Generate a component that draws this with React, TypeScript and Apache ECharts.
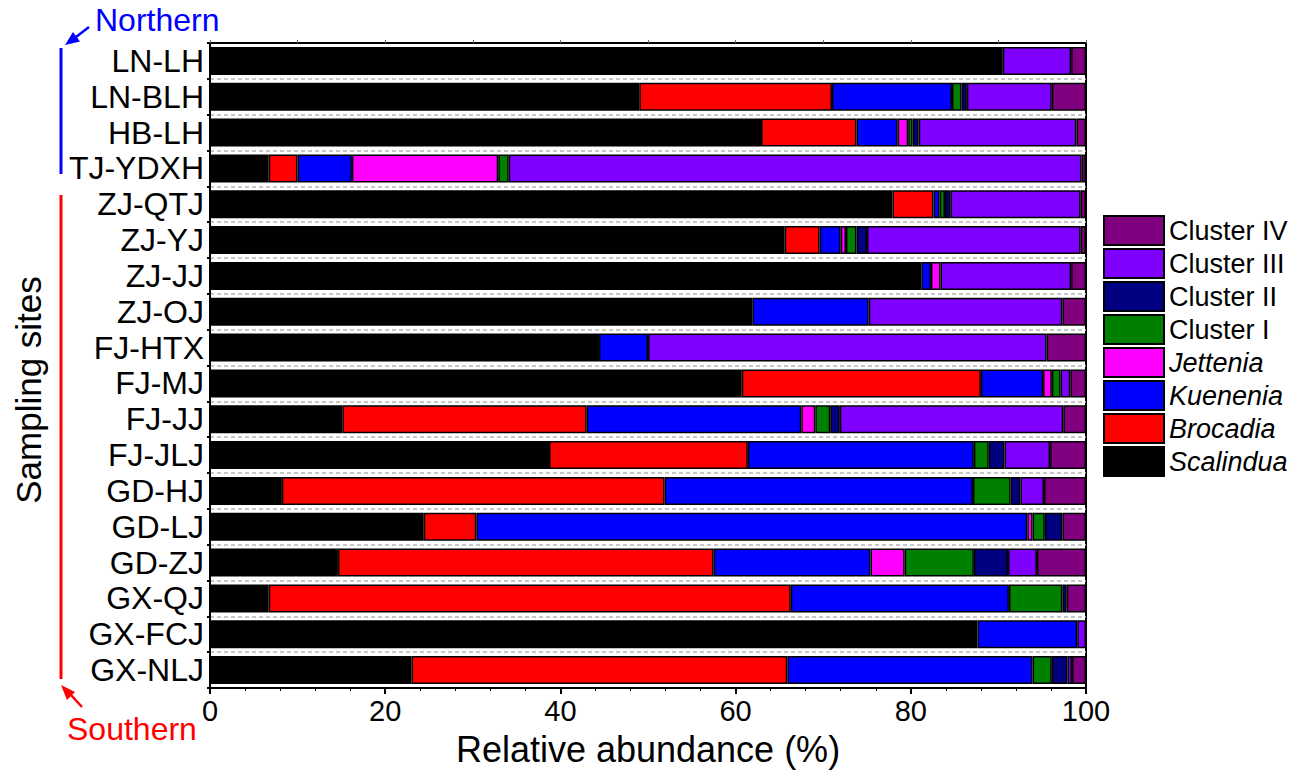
import React, { useEffect, useRef } from "react";
import * as echarts from "echarts";

const sites = ["LN-LH","LN-BLH","HB-LH","TJ-YDXH","ZJ-QTJ","ZJ-YJ","ZJ-JJ","ZJ-OJ","FJ-HTX","FJ-MJ","FJ-JJ","FJ-JLJ","GD-HJ","GD-LJ","GD-ZJ","GX-QJ","GX-FCJ","GX-NLJ"];

const scalindua = [90.5, 49.0, 62.9, 6.7, 77.9, 65.6, 81.2, 61.9, 44.4, 60.7, 15.1, 38.7, 8.2, 24.4, 14.6, 6.7, 87.6, 23.0];
const brocadia = [0, 22.0, 10.9, 3.3, 4.7, 4.0, 0, 0, 0, 27.3, 27.9, 22.7, 43.7, 6.0, 42.9, 59.6, 0, 42.9];
const kuenenia = [0, 13.7, 4.7, 6.2, 0.7, 2.4, 1.1, 13.3, 5.6, 7.1, 24.5, 25.8, 35.2, 62.9, 17.9, 24.9, 11.4, 28.0];
const jettenia = [0, 0, 1.2, 16.7, 0, 0.6, 1.1, 0, 0, 1.0, 1.6, 0, 0, 0.6, 3.9, 0, 0, 0];
const clusterI = [0, 1.1, 0.5, 1.2, 0.6, 1.2, 0, 0, 0, 1.0, 1.7, 1.7, 4.3, 1.4, 7.9, 6.1, 0, 2.2];
const clusterII = [0, 0.6, 0.7, 0, 0.6, 1.2, 0, 0, 0, 0, 1.1, 1.8, 1.1, 2.0, 3.9, 0.5, 0, 1.8];
const clusterIII = [7.8, 9.7, 18.0, 65.4, 14.9, 24.4, 14.9, 22.1, 45.5, 1.1, 25.5, 5.2, 2.7, 0, 3.3, 0, 1.0, 0.5];
const clusterIV = [1.7, 3.9, 1.1, 0.5, 0.6, 0.6, 1.7, 2.7, 4.5, 1.8, 2.6, 4.1, 4.8, 2.7, 5.6, 2.2, 0, 1.6];

const seriesDefs = [
  { name: "Scalindua", data: scalindua, color: "#000000", italic: true },
  { name: "Brocadia", data: brocadia, color: "#ff0000", italic: true },
  { name: "Kuenenia", data: kuenenia, color: "#0000ff", italic: true },
  { name: "Jettenia", data: jettenia, color: "#ff00ff", italic: true },
  { name: "Cluster I", data: clusterI, color: "#008000", italic: false },
  { name: "Cluster II", data: clusterII, color: "#000080", italic: false },
  { name: "Cluster III", data: clusterIII, color: "#8000ff", italic: false },
  { name: "Cluster IV", data: clusterIV, color: "#800080", italic: false },
];

const FONT = "'Liberation Sans', Arial, sans-serif";

export default function App() {
  const ref = useRef<HTMLDivElement>(null);
  useEffect(() => {
    if (!ref.current) return;
    const chart = echarts.init(ref.current, null, { renderer: "svg" });
    const option = {
      animation: false,
      textStyle: { fontFamily: FONT },
      grid: { left: 210, right: 219, top: 43, bottom: 88, show: true, borderColor: "#000", borderWidth: 2 },
      legend: {
        orient: "vertical",
        left: 1098,
        top: 210,
        itemWidth: 60,
        itemHeight: 29,
        itemGap: 2,
        icon: "rect",
        textStyle: { fontSize: 27, lineHeight: 29, color: "#000", fontFamily: FONT },
        data: [...seriesDefs].reverse().map((s) => ({
          name: s.name,
          textStyle: { fontStyle: s.italic ? "italic" : "normal" },
        })),
      },
      xAxis: [
        {
          type: "value",
          min: 0,
          max: 100,
          interval: 20,
          position: "bottom",
          name: "Relative abundance (%)",
          nameLocation: "middle",
          nameGap: 43,
          nameTextStyle: { fontSize: 36, color: "#000", fontFamily: FONT },
          axisLine: { show: true, lineStyle: { color: "#000", width: 2 } },
          axisTick: { show: true, length: 6, lineStyle: { color: "#000", width: 2 } },
          minorTick: { show: true, splitNumber: 5, length: 3, lineStyle: { color: "#000", width: 1 } },
          axisLabel: { fontSize: 29, color: "#000", margin: 8, fontFamily: FONT },
          splitLine: { show: false },
        },
        {
          type: "value",
          min: 0,
          max: 100,
          interval: 10,
          position: "top",
          axisLine: { show: true, lineStyle: { color: "#000", width: 2 } },
          axisTick: { show: true, length: 3, lineStyle: { color: "#666", width: 1 } },
          axisLabel: { show: false },
          splitLine: { show: false },
        },
      ],
      yAxis: {
        type: "category",
        inverse: true,
        data: sites,
        axisLine: { show: true, lineStyle: { color: "#000", width: 2 } },
        axisTick: { show: true, length: 3, interval: 0, lineStyle: { color: "#000", width: 2 } },
        axisLabel: { fontSize: 32, color: "#000", margin: 6, interval: 0, fontFamily: FONT },
        splitLine: { show: true, interval: 0, lineStyle: { color: "#b5b5b5", width: 1.5, type: [4, 3] } },
      },
      series: seriesDefs.map((s) => ({
        name: s.name,
        type: "bar",
        stack: "total",
        barWidth: 28,
        xAxisIndex: 0,
        itemStyle: { color: s.color, borderColor: "#000", borderWidth: 1.5 },
        data: s.data.map((v) => (v === 0 ? null : v)),
      })),
      graphic: [
        {
          type: "text",
          x: 28,
          y: 390,
          rotation: Math.PI / 2,
          style: {
            text: "Sampling sites",
            fontSize: 35,
            fontFamily: FONT,
            fill: "#000",
            textAlign: "center",
            textVerticalAlign: "middle",
          },
        },
        {
          type: "text",
          x: 95,
          y: 20,
          style: { text: "Northern", fontSize: 32, fontFamily: FONT, fill: "#0000ff", textAlign: "left", textVerticalAlign: "middle" },
        },
        {
          type: "text",
          x: 67,
          y: 729,
          style: { text: "Southern", fontSize: 32, fontFamily: FONT, fill: "#ff0000", textAlign: "left", textVerticalAlign: "middle" },
        },
        { type: "line", shape: { x1: 61, y1: 48, x2: 61, y2: 174 }, style: { stroke: "#0000ff", lineWidth: 3 } },
        { type: "line", shape: { x1: 61, y1: 195, x2: 61, y2: 679 }, style: { stroke: "#ff0000", lineWidth: 3 } },
        { type: "line", shape: { x1: 89, y1: 27, x2: 76, y2: 37 }, style: { stroke: "#0000ff", lineWidth: 2.5 } },
        { type: "polygon", shape: { points: [[65, 45], [80, 41.5], [73, 32]] }, style: { fill: "#0000ff" } },
        { type: "line", shape: { x1: 82, y1: 707, x2: 71, y2: 695 }, style: { stroke: "#ff0000", lineWidth: 2.5 } },
        { type: "polygon", shape: { points: [[61, 685], [75, 692], [67, 700]] }, style: { fill: "#ff0000" } },
      ],
    };
    chart.setOption(option as any);
    return () => chart.dispose();
  }, []);
  return (
    <div
      ref={ref}
      style={{ position: "fixed", left: 0, top: 0, width: 1305, height: 776, background: "#fff" }}
    />
  );
}
